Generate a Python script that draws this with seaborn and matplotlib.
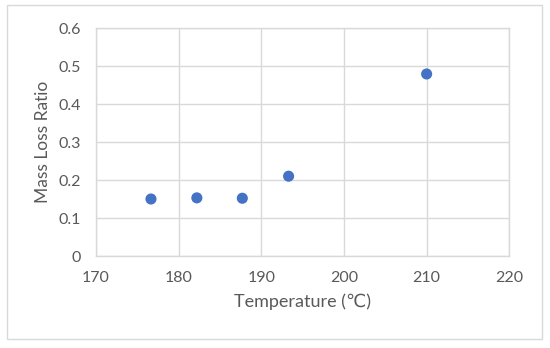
import matplotlib
matplotlib.use("Agg")
import matplotlib.pyplot as plt
import seaborn as sns
import pandas as pd
from matplotlib.patches import Rectangle

temperature = [176.65, 182.2, 187.7, 193.3, 210.0]
mass_loss_ratio = [0.150, 0.153, 0.152, 0.210, 0.479]
x_ticks = [170, 180, 190, 200, 210, 220]
y_ticks = [0, 0.1, 0.2, 0.3, 0.4, 0.5, 0.6]
y_tick_labels = ["0", "0.1", "0.2", "0.3", "0.4", "0.5", "0.6"]

sns.set_theme(style="white")
plt.rcParams['font.family'] = ['Lato', 'DejaVu Sans']

df = pd.DataFrame({"Temperature": temperature, "Mass Loss Ratio": mass_loss_ratio})

fig = plt.figure(figsize=(5.5, 3.48), dpi=100)
ax = fig.add_axes([96/550, 92/348, (509.3-96)/550, (256-28)/348])

sns.scatterplot(data=df, x="Temperature", y="Mass Loss Ratio", ax=ax,
                color="#4472C4", s=64, edgecolor="none", zorder=3)

ax.set_xlim(170, 220)
ax.set_ylim(0, 0.6)
ax.set_xticks(x_ticks)
ax.set_yticks(y_ticks)
ax.set_yticklabels(y_tick_labels)
ax.grid(True, color="#D9D9D9", linewidth=1.0)
ax.set_axisbelow(True)
for sp in ax.spines.values():
    sp.set_color("#D9D9D9")
    sp.set_linewidth(1.0)
ax.tick_params(axis="both", length=0, labelsize=11.5, labelcolor="#595959")
ax.tick_params(axis="x", pad=11)
ax.tick_params(axis="y", pad=11)
ax.set_xlabel("Temperature (℃)", fontsize=13, color="#595959", labelpad=6)
ax.set_ylabel("Mass Loss Ratio", fontsize=12.5, color="#595959", labelpad=5)

fig.patches.append(Rectangle((7.3/550, 8.7/348), 535/550, 334/348,
                             transform=fig.transFigure, fill=False,
                             edgecolor="#D9D9D9", linewidth=1.0))

fig.savefig("out.png", dpi=100, facecolor="white")
